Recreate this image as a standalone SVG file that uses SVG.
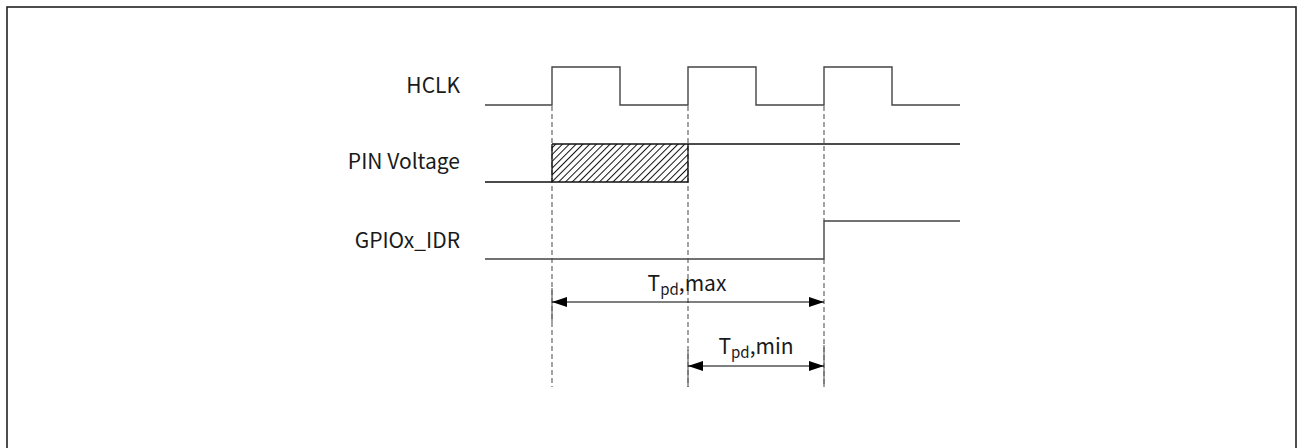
<svg xmlns="http://www.w3.org/2000/svg" width="1301" height="448" viewBox="0 0 1301 448">
  <style>
    .lbl { font-family: "Noto Sans CJK SC", "Noto Sans", sans-serif; font-size: 21px; fill: #1a1a1a; }
    .sig { fill: none; stroke: #444; stroke-width: 1.4; }
    .sigk { fill: none; stroke: #111; stroke-width: 1.3; }
    .dash { fill: none; stroke: #666; stroke-width: 1.2; stroke-dasharray: 5 3; }
    .ext { fill: none; stroke: #666; stroke-width: 1.2; }
    .dim { fill: none; stroke: #000; stroke-width: 1.2; }
  </style>
  <defs>
    <pattern id="hatch" patternUnits="userSpaceOnUse" width="4.8" height="4.8" patternTransform="rotate(45)">
      <line x1="0.5" y1="0" x2="0.5" y2="4.8" stroke="#111" stroke-width="1"/>
    </pattern>
    <marker id="ah" viewBox="0 0 15 10" refX="15" refY="5" markerWidth="15" markerHeight="10" markerUnits="userSpaceOnUse" orient="auto-start-reverse">
      <path d="M0,0 L15,5 L0,10 Z" fill="#000"/>
    </marker>
  </defs>
  <rect id="frame" x="7" y="7" width="1289" height="460" fill="#fff" stroke="#222" stroke-width="1.6"/>

  <g id="connectors">
    <line class="dash" x1="552" y1="106" x2="552" y2="387"/>
    <line class="dash" x1="688" y1="106" x2="688" y2="387"/>
    <line class="dash" x1="824" y1="106" x2="824" y2="221"/>
    <line class="dash" x1="824" y1="259" x2="824" y2="387"/>
    <line class="ext" x1="552" y1="288" x2="552" y2="322"/>
    <line class="ext" x1="688" y1="350" x2="688" y2="387"/>
    <line class="ext" x1="824" y1="345" x2="824" y2="387"/>
    <line class="dim" x1="552" y1="302" x2="824" y2="302" marker-start="url(#ah)" marker-end="url(#ah)"/>
    <line class="dim" x1="688" y1="366" x2="824" y2="366" marker-start="url(#ah)" marker-end="url(#ah)"/>
  </g>

  <g id="hclk">
    <text class="lbl" x="460" y="93" text-anchor="end">HCLK</text>
    <polyline class="sig" points="485,105 552,105 552,67 620,67 620,105 688,105 688,67 756,67 756,105 824,105 824,67 892,67 892,105 960,105"/>
  </g>

  <g id="pin-voltage">
    <text class="lbl" x="460" y="169" text-anchor="end">PIN Voltage</text>
    <rect x="552" y="144" width="136" height="38" fill="url(#hatch)"/>
    <polyline class="sigk" points="485,182 688,182 688,144"/>
    <line class="sigk" x1="552" y1="144" x2="960" y2="144"/>
    <line class="sigk" x1="552" y1="144" x2="552" y2="182"/>
  </g>

  <g id="gpiox-idr">
    <text class="lbl" x="460" y="248" text-anchor="end">GPIOx_IDR</text>
    <polyline class="sig" points="485,259 824,259 824,221 960,221"/>
  </g>

  <g id="tpd-max">
    <text class="lbl" x="687" y="291" text-anchor="middle">T<tspan font-size="15" dy="4">pd</tspan><tspan dy="-4">,max</tspan></text>
  </g>
  <g id="tpd-min">
    <text class="lbl" x="756" y="354" text-anchor="middle">T<tspan font-size="15" dy="4">pd</tspan><tspan dy="-4">,min</tspan></text>
  </g>
</svg>
